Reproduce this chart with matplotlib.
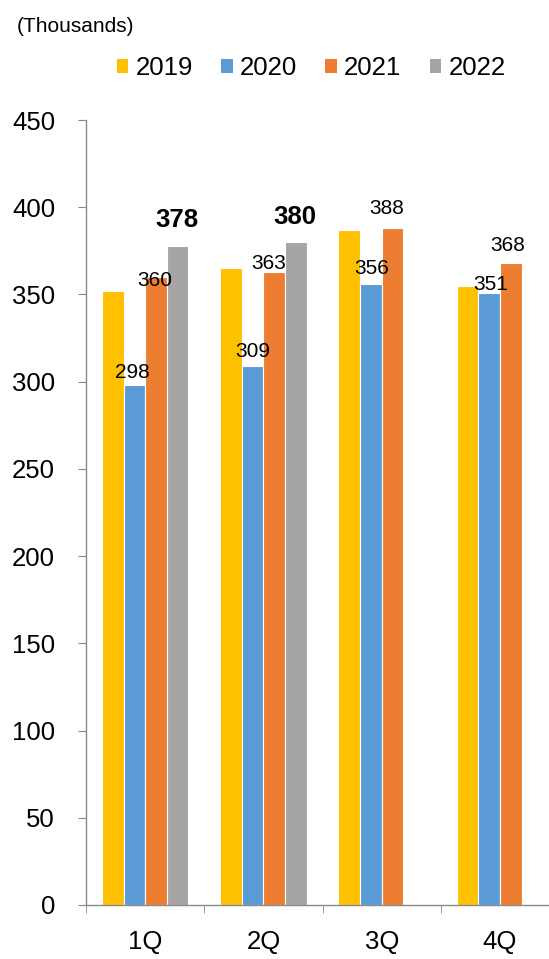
import numpy as np
import matplotlib
matplotlib.use("Agg")
import matplotlib.pyplot as plt
from matplotlib.patches import Patch

plt.rcParams['font.family'] = ['Liberation Sans', 'DejaVu Sans']

quarters = ["1Q", "2Q", "3Q", "4Q"]
years = ["2019", "2020", "2021", "2022"]
v2019 = [352, 365, 387, 355]
v2020 = [298, 309, 356, 351]
v2021 = [360, 363, 388, 368]
v2022 = [378, 380, np.nan, np.nan]
colors = ["#FFC000", "#5B9BD5", "#ED7D31", "#A5A5A5"]

# which series get value labels, and label nudges in pixels (dx, dy up)
label_nudge = {
    "2020": [(-2, 13), (0, 14), (1, 15), (1, 8)],
    "2021": [(-1, -4), (-6, 8), (-6, 20), (-3, 18)],
    "2022": [(-1, 26), (-1, 25), None, None],
}

series = [v2019, v2020, v2021, v2022]

fig = plt.figure(figsize=(5.49, 9.59), dpi=100)
ax = fig.add_axes([86 / 549, 1 - 905 / 959, 1 - 86 / 549, (905 - 120) / 959])

x = np.arange(len(quarters))
w = 0.183
px = 0.72  # points per pixel

for i, (yr, vals) in enumerate(zip(years, series)):
    xs = x + (i - 1.5) * w
    ax.bar(xs, vals, width=w, color=colors[i], edgecolor="white", linewidth=0.8)
    if yr in label_nudge:
        for j, v in enumerate(vals):
            nud = label_nudge[yr][j]
            if nud is None or np.isnan(v):
                continue
            bold = yr == "2022"
            ax.annotate(str(int(v)), (xs[j], v),
                        xytext=(nud[0] * px, nud[1] * px), textcoords="offset points",
                        ha="center", va="center",
                        fontsize=18.5 if bold else 15,
                        fontweight="bold" if bold else "normal", color="black")

ax.set_xticks(x)
ax.set_xticklabels(quarters)
ax.set_xticks(np.arange(-0.5, 4, 1), minor=True)
# limits after the ticks, otherwise set_xticks widens the view
ax.set_ylim(0, 450)
ax.set_yticks(range(0, 451, 50))
ax.set_xlim(-0.5, -0.5 + (549 - 86) / 118.3)

axis_col = "#898989"
for s in ["top", "right"]:
    ax.spines[s].set_visible(False)
for s in ["left", "bottom"]:
    ax.spines[s].set_color(axis_col)
    ax.spines[s].set_linewidth(1.0)

ax.tick_params(axis="x", which="major", length=0, pad=18, labelsize=18.5)
ax.tick_params(axis="x", which="minor", length=5.8, color=axis_col, direction="out")
ax.tick_params(axis="y", length=5.8, color=axis_col, pad=16.5, labelsize=18.5)

handles = [Patch(facecolor=c, edgecolor="none") for c in colors]
fig.legend(handles, years, loc="center", bbox_to_anchor=(311 / 549, 1 - 68 / 959),
           ncol=4, frameon=False, fontsize=18.5, handlelength=0.45, handleheight=0.45,
           handletextpad=0.28, columnspacing=1.1)

fig.text(17 / 549, 1 - 26 / 959, "(Thousands)", fontsize=15, va="center", ha="left")

fig.savefig("out.png", dpi=100)
